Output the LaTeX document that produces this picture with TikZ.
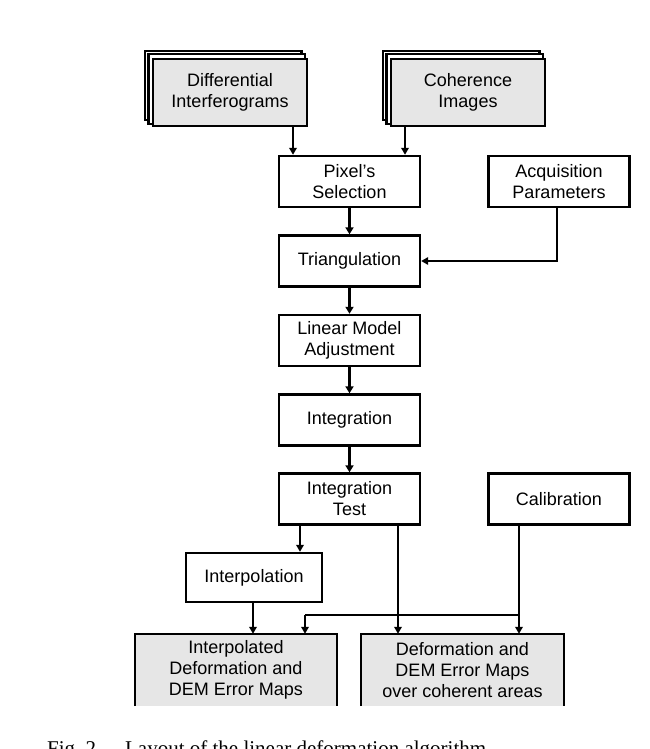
\documentclass[tikz,border=0pt]{standalone}
\usepackage{fontspec}
\setmainfont{Liberation Sans}
\newfontfamily\capfont{Liberation Serif}
\usetikzlibrary{arrows.meta,calc,backgrounds}
\definecolor{boxgray}{HTML}{E6E6E6}
\begin{document}
\begin{tikzpicture}[x=1pt,y=-1pt,
  box/.style={draw, line width=2.4pt, minimum width=141pt, minimum height=51pt,
    inner sep=0pt, align=center, font=\fontsize{18}{21}\selectfont},
  stackbox/.style={box, fill=boxgray, minimum width=154pt, minimum height=67pt},
  layer/.style={draw, fill=white, line width=2.2pt},
  outbox/.style={fill=boxgray, minimum width=202pt, minimum height=72pt,
    inner sep=0pt, align=center, font=\fontsize{18}{21}\selectfont},
  outline/.style={line width=2pt},
  arr/.style={line width=2pt, -{Triangle[length=7pt,width=7.5pt]}},
  thickarr/.style={line width=2.8pt, -{Triangle[length=7pt,width=8pt]}},
  thinarr/.style={line width=1.7pt, -{Triangle[length=7pt,width=7.5pt]}},
  line/.style={line width=2pt}
]
\useasboundingbox (0,0) rectangle (649,749);
\clip (0,0) rectangle (649,749);

% input stacks
\node[stackbox] (di) at (230,92.5) {Differential\\Interferograms};
\node[stackbox] (ci) at (468,92.5) {Coherence\\Images};
\begin{pgfonlayer}{background}
  \foreach \n in {di,ci}{
    \draw[layer] ($(\n.south west)+(-6.8,-6.8)$) rectangle ($(\n.north east)+(-6.8,-6.8)$);
    \draw[layer] ($(\n.south west)+(-3.4,-3.4)$) rectangle ($(\n.north east)+(-3.4,-3.4)$);
  }
\end{pgfonlayer}

% process boxes
\node[box] (ps) at (349.5,181.5) {Pixel's\\Selection};
\node[box] (tr) at (349.5,261) {Triangulation};
\node[box] (lm) at (349.5,340.5) {Linear Model\\Adjustment};
\node[box] (in) at (349.5,420) {Integration};
\node[box] (it) at (349.5,499) {Integration\\Test};
\node[box] (ap) at (559,181.5) {Acquisition\\Parameters};
\node[box] (ca) at (559,499) {Calibration};
\node[box, minimum width=136pt, minimum height=49pt] (ip) at (254,577.5) {Interpolation};

% outputs
\node[outbox] (b1) at (236,670) {Interpolated\\Deformation and\\DEM Error Maps};
\node[outbox] (b2) at (462.5,670) {Deformation and\\DEM Error Maps\\over coherent areas};
\draw[outline] (b1.south west) -- (b1.north west) -- (b1.north east) -- (b1.south east);
\draw[outline] (b2.south west) -- (b2.north west) -- (b2.north east) -- (b2.south east);

% helper coordinates
\coordinate (xa) at (293,0);
\coordinate (xb) at (405,0);
\coordinate (xc) at (557,0);
\coordinate (xd) at (300,0);
\coordinate (xe) at (398,0);
\coordinate (xf) at (519,0);
\coordinate (xg) at (305,0);
\coordinate (xh) at (253,0);
\coordinate (j) at (519,615);
\coordinate (jl) at (305,615);

% connectors
\draw[arr] (di.south -| xa) -- (ps.north -| xa);
\draw[arr] (ci.south -| xb) -- (ps.north -| xb);
\draw[thickarr] (ps) -- (tr);
\draw[thinarr] (ap.south -| xc) -- (xc |- tr.east) -- (tr.east);
\draw[thickarr] (tr) -- (lm);
\draw[thickarr] (lm) -- (in);
\draw[thickarr] (in) -- (it);
\draw[arr] (it.south -| xd) -- (ip.north -| xd);
\draw[arr] (it.south -| xe) -- (b2.north -| xe);
\draw[arr] (ca.south -| xf) -- (b2.north -| xf);
\draw[line] (j) -- (jl);
\draw[arr] (jl) -- (b1.north -| xg);
\draw[arr] (ip.south -| xh) -- (b1.north -| xh);

% caption (cut by the page edge)
\node[anchor=base west, inner sep=0pt, font=\capfont\fontsize{21}{25}\selectfont] (cap) at (47,755)
  {Fig.~2.\hspace{23.7pt}Layout of the linear deformation algorithm.};
\end{tikzpicture}
\end{document}
